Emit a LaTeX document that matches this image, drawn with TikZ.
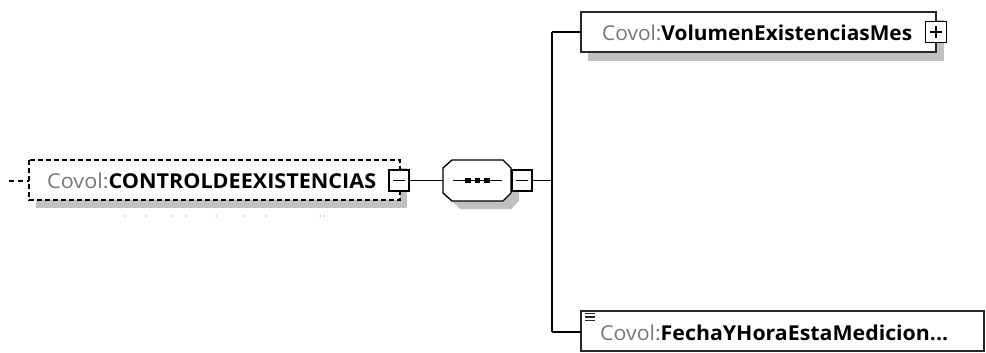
\documentclass[tikz,border=0pt]{standalone}
\usepackage{fontspec}
\setmainfont{Open Sans}
\usepackage{graphicx}
\definecolor{shadowgray}{RGB}{192,192,192}
\definecolor{nsgray}{RGB}{118,118,118}
\definecolor{linegray}{RGB}{40,40,40}
\begin{document}
\begin{tikzpicture}[x=1pt,y=-1pt,
  conn/.style={draw=black,line width=1.3pt},
  elembox/.style={draw=linegray,line width=1.5pt,fill=white},
  shadowbox/.style={fill=shadowgray,draw=none},
  pmbox/.style={draw=black,line width=1.3pt,fill=white},
  lbl/.style={anchor=west,inner sep=0pt,font=\fontsize{20.5}{22}\selectfont}]
\useasboundingbox (0,0) rectangle (986,353);

% ---- main element (optional, dashed)
\fill[shadowbox] (36,168) rectangle (407,208);
\draw[elembox,dashed,dash pattern=on 5pt off 3pt,draw=black] (29,160) rectangle (400,200);
\coordinate (mainL) at (29,181);
\coordinate (freeL) at (9,181);
\draw[conn,dash pattern=on 5pt off 4pt] (freeL) -- (mainL);
\node[lbl] (mainTxt) at (47,181) {\resizebox{329pt}{\height}{\textcolor{nsgray}{Covol:}\textbf{CONTROLDEEXISTENCIAS}}};
\node[pmbox,minimum width=20pt,minimum height=21pt,inner sep=0pt] (mainMinus) at (399,180.5) {};
\draw[line width=1.3pt] ([xshift=-6pt]mainMinus.center) -- ([xshift=6pt]mainMinus.center);
% faint dots (occurrence)
\foreach \x in {125,146,172,186,216,244,266,320,324}
  \fill[gray!45] (\x,216) circle (1pt);

% ---- sequence compositor
\fill[shadowbox] (460,168) -- (511,168) -- (519,176) -- (519,201) -- (511,209) -- (460,209) -- (452,201) -- (452,176) -- cycle;
\draw[elembox,draw=black,line width=1.4pt] (452,160) coordinate (seqTL) -- (503,160) -- (511,168) -- (511,193) -- (503,201) -- (452,201) -- (443,193) -- (443,168) -- cycle;
\coordinate (seqL) at (443,180.5);
\coordinate (seqR) at (511,180.5);
\draw[line width=1.3pt] (453,180.5) -- (502,180.5);
\foreach \x in {468,477.5,487}
  \fill (\x-2.6,178) rectangle (\x+2.6,183);
\node[pmbox,minimum width=20pt,minimum height=21pt,inner sep=0pt] (seqMinus) at (522,180.5) {};
\draw[line width=1.3pt] ([xshift=-6pt]seqMinus.center) -- ([xshift=6pt]seqMinus.center);
\draw[conn] (mainMinus.east) -- (seqL);

% ---- branch
\coordinate (busTop) at (552,32);
\coordinate (busBot) at (552,332);
\coordinate (busMid) at (552,180.5);
\draw[conn] (seqMinus.east) -- (busMid);
\draw[conn] (busTop) -- (busBot);

% ---- top child
\fill[shadowbox] (588,20) rectangle (944,61);
\draw[elembox] (581,12) rectangle (936,52);
\coordinate (topL) at (581,32);
\draw[conn] (busTop) -- (topL);
\node[lbl] (topTxt) at (602,32.5) {\resizebox{310pt}{\height}{\textcolor{nsgray}{Covol:}\textbf{VolumenExistenciasMes}}};
\node[pmbox,minimum width=21pt,minimum height=21pt,inner sep=0pt] (topPlus) at (936,32) {};
\draw[line width=1.3pt] ([xshift=-6pt]topPlus.center) -- ([xshift=6pt]topPlus.center);
\draw[line width=1.3pt] ([yshift=-6pt]topPlus.center) -- ([yshift=6pt]topPlus.center);

% ---- bottom child
\draw[elembox] (581,311) rectangle (984,351);
\coordinate (botL) at (581,332);
\draw[conn] (busBot) -- (botL);
\foreach \y in {313.5,317,320.5}
  \draw[linegray,line width=1.2pt] (585,\y) -- (595,\y);
\node[lbl] (botTxt) at (600,333) {\resizebox{348pt}{\height}{\textcolor{nsgray}{Covol:}\textbf{FechaYHoraEstaMedicion...}}};
\end{tikzpicture}
\end{document}
